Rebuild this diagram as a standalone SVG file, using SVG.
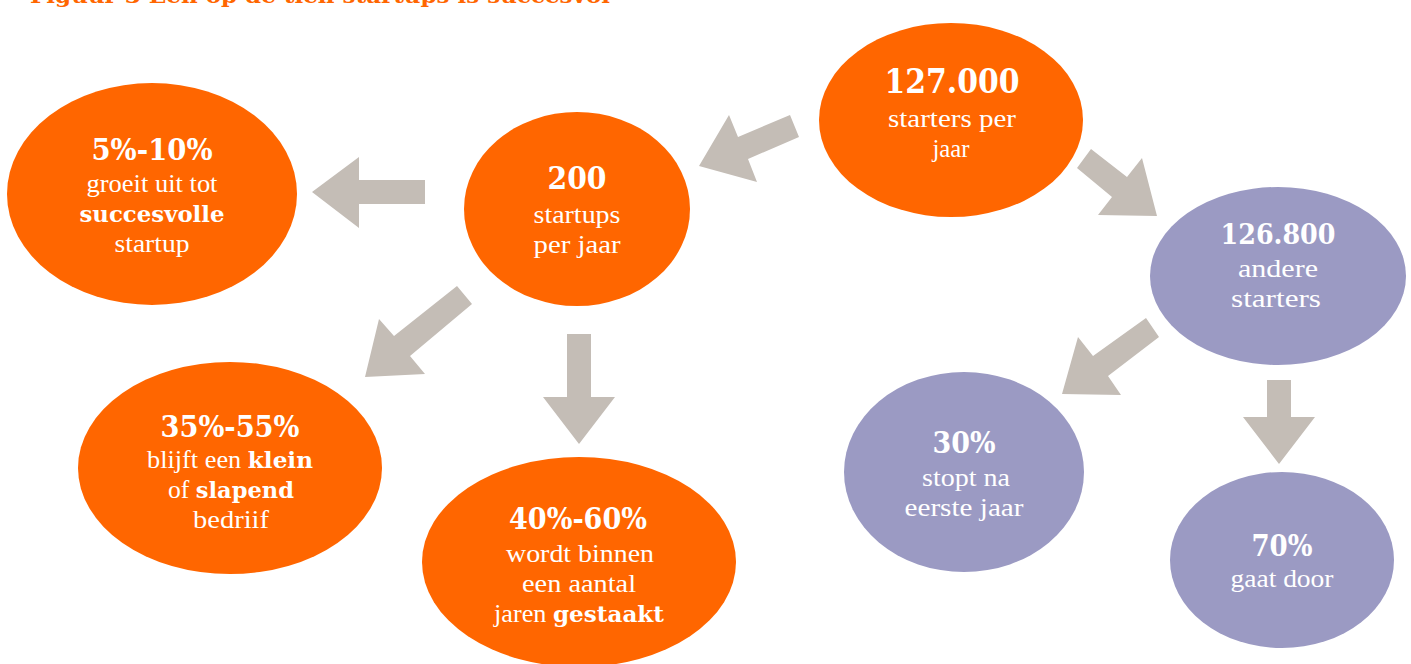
<svg xmlns="http://www.w3.org/2000/svg" width="1411" height="664" viewBox="0 0 1411 664">
<style>
.org{fill:#FF6600}
.pur{fill:#9B9AC3}
.arr{fill:#C4BDB6}
.num{font-family:"DejaVu Serif","Liberation Serif",serif;font-weight:bold;fill:#FFFFFF;text-anchor:middle}
.lt{font-family:"Liberation Serif","DejaVu Serif",serif;font-size:25px;fill:#FFFFFF;text-anchor:middle}
.b{font-family:"DejaVu Serif","Liberation Serif",serif;font-weight:bold;font-size:22px}
.title{font-family:"DejaVu Serif","Liberation Serif",serif;font-weight:bold;font-size:20px;fill:#FF6600}
</style>
<rect width="1411" height="664" fill="#FFFFFF"/>
<text class="title" x="30" y="3" textLength="580" lengthAdjust="spacingAndGlyphs">Figuur 3 Een op de tien startups is succesvol</text>

<g id="connectors">
<polygon class="arr" points="312,192 359,157 359,180 425,180 425,204 359,204 359,228"/>
<polygon class="arr" points="699,166 729,115 738,137 790,115 799,137 748,159 757,182"/>
<polygon class="arr" points="1157,216 1142,158 1127,177 1091,149 1077,168 1112,197 1098,215"/>
<polygon class="arr" points="365,377 379,319 394,336 457,286 472,304 410,356 425,374"/>
<polygon class="arr" points="567,334 591,334 591,397 615,397 579,444 543,397 567,397"/>
<polygon class="arr" points="1062,394 1078,337 1093,356 1146,318 1159,337 1108,376 1121,395"/>
<polygon class="arr" points="1267,380 1291,380 1291,417 1315,417 1279,464 1243,417 1267,417"/>
</g>

<g id="node-succes">
<ellipse class="org" cx="152" cy="194" rx="145" ry="111"/>
<text class="num" x="152" y="160" font-size="30" textLength="121" lengthAdjust="spacingAndGlyphs">5%-10%</text>
<text class="lt" x="152" y="192" textLength="131" lengthAdjust="spacingAndGlyphs">groeit uit tot</text>
<text class="lt" x="152" y="222"><tspan class="b" textLength="145" lengthAdjust="spacingAndGlyphs">succesvolle</tspan></text>
<text class="lt" x="152" y="252" textLength="75" lengthAdjust="spacingAndGlyphs">startup</text>
</g>

<g id="node-200">
<ellipse class="org" cx="577" cy="209" rx="113" ry="97"/>
<text class="num" x="577" y="189" font-size="31" textLength="59" lengthAdjust="spacingAndGlyphs">200</text>
<text class="lt" x="577" y="223" textLength="87" lengthAdjust="spacingAndGlyphs">startups</text>
<text class="lt" x="577" y="253" textLength="87" lengthAdjust="spacingAndGlyphs">per jaar</text>
</g>

<g id="node-127000">
<ellipse class="org" cx="951" cy="120" rx="132" ry="97"/>
<text class="num" x="952" y="93" font-size="34" textLength="135" lengthAdjust="spacingAndGlyphs">127.000</text>
<text class="lt" x="952" y="127" textLength="128" lengthAdjust="spacingAndGlyphs">starters per</text>
<text class="lt" x="951" y="157" textLength="37" lengthAdjust="spacingAndGlyphs">jaar</text>
</g>

<g id="node-126800">
<ellipse class="pur" cx="1278" cy="276" rx="128" ry="89"/>
<text class="num" x="1278" y="244" font-size="27" textLength="115" lengthAdjust="spacingAndGlyphs">126.800</text>
<text class="lt" x="1278" y="277" textLength="80" lengthAdjust="spacingAndGlyphs">andere</text>
<text class="lt" x="1276" y="307" textLength="90" lengthAdjust="spacingAndGlyphs">starters</text>
</g>

<g id="node-klein">
<ellipse class="org" cx="230" cy="468" rx="152" ry="106"/>
<text class="num" x="230" y="437" font-size="29" textLength="139" lengthAdjust="spacingAndGlyphs">35%-55%</text>
<text class="lt" x="230" y="468" textLength="166" lengthAdjust="spacingAndGlyphs">blijft een <tspan class="b">klein</tspan></text>
<text class="lt" x="231" y="498" textLength="126" lengthAdjust="spacingAndGlyphs">of <tspan class="b">slapend</tspan></text>
<text class="lt" x="231" y="528" textLength="76" lengthAdjust="spacingAndGlyphs">bedriif</text>
</g>

<g id="node-gestaakt">
<ellipse class="org" cx="579" cy="562" rx="157" ry="105"/>
<text class="num" x="578" y="529" font-size="29" textLength="138" lengthAdjust="spacingAndGlyphs">40%-60%</text>
<text class="lt" x="580" y="562" textLength="148" lengthAdjust="spacingAndGlyphs">wordt binnen</text>
<text class="lt" x="579" y="592" textLength="114" lengthAdjust="spacingAndGlyphs">een aantal</text>
<text class="lt" x="579" y="622" textLength="170" lengthAdjust="spacingAndGlyphs">jaren <tspan class="b">gestaakt</tspan></text>
</g>

<g id="node-30">
<ellipse class="pur" cx="964" cy="472" rx="120" ry="100"/>
<text class="num" x="964" y="453" font-size="29" textLength="63" lengthAdjust="spacingAndGlyphs">30%</text>
<text class="lt" x="966" y="486" textLength="88" lengthAdjust="spacingAndGlyphs">stopt na</text>
<text class="lt" x="964" y="516" textLength="119" lengthAdjust="spacingAndGlyphs">eerste jaar</text>
</g>

<g id="node-70">
<ellipse class="pur" cx="1282" cy="560" rx="112" ry="88"/>
<text class="num" x="1282" y="556" font-size="29" textLength="61" lengthAdjust="spacingAndGlyphs">70%</text>
<text class="lt" x="1282" y="587" textLength="103" lengthAdjust="spacingAndGlyphs">gaat door</text>
</g>
</svg>
